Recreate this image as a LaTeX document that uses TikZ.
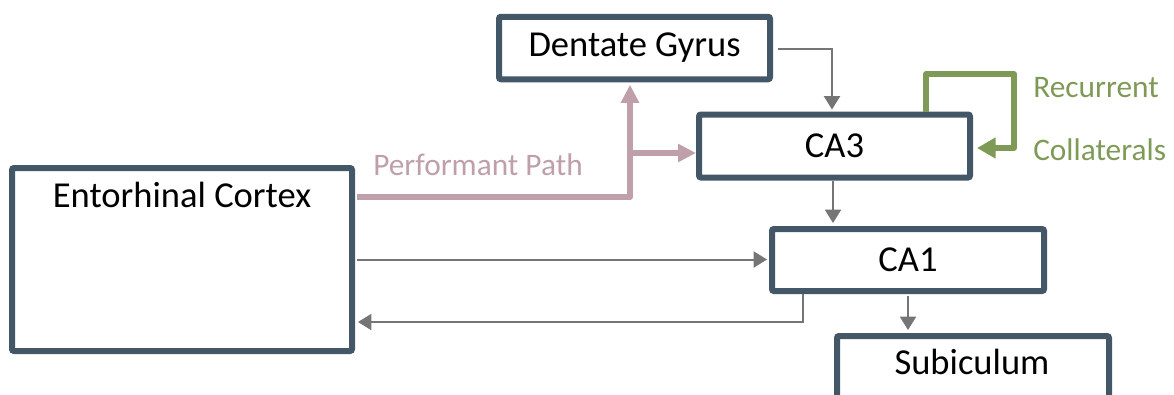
\documentclass[tikz,border=0pt]{standalone}
\usepackage{fontspec}
\setmainfont{Carlito}
\usetikzlibrary{arrows.meta,calc}
\definecolor{boxc}{HTML}{445767}
\definecolor{pinkc}{HTML}{BF9FAA}
\definecolor{greenc}{HTML}{7F9A57}
\definecolor{grayc}{HTML}{757575}
\begin{document}
\begin{tikzpicture}[x=0.75pt,y=-0.75pt,
  box/.style={draw=boxc,line width=4.5pt,rounded corners=1.5pt,fill=white,inner sep=0pt,
    font=\fontsize{27.4pt}{30pt}\selectfont,text=black},
  btext/.style={inner sep=0pt,font=\fontsize{27.4pt}{30pt}\selectfont,text=black},
  lbl/.style={inner sep=0pt,anchor=west,font=\fontsize{23.5pt}{26pt}\selectfont},
  grayarrow/.style={draw=grayc,line width=1.5pt,-{Triangle[length=10pt,width=12pt]}},
  pinkarrow/.style={draw=pinkc,line width=4.5pt,line join=round,-{Triangle[length=13.5pt,width=13pt]}},
  greenarrow/.style={draw=greenc,line width=4.5pt,line join=round,-{Triangle[length=14pt,width=15pt]}}]
\useasboundingbox (0,0) rectangle (1174,394);
\clip (0,0) rectangle (1174,394);
% boxes
\node[box,minimum width=340*0.75pt,minimum height=183*0.75pt] (EC) at (182,259.5) {};
\node[btext] (ECt) at (182,195) {Entorhinal Cortex};
\node[box,minimum width=271*0.75pt,minimum height=62.5*0.75pt] (DG) at (634.5,48) {Dentate Gyrus};
\node[box,minimum width=271*0.75pt,minimum height=63*0.75pt] (CA3) at (834.5,146) {CA3};
\node[box,minimum width=272*0.75pt,minimum height=62*0.75pt] (CA1) at (908,260) {CA1};
\node[box,minimum width=272*0.75pt,minimum height=62*0.75pt] (SUB) at (973,367) {};
\node[btext] (SUBt) at (972,362) {Subiculum};
% helper coordinates
\coordinate (pturn) at (630,197);
\coordinate (pbranch) at (630,153);
\coordinate (dgturn) at (832,49);
\coordinate (c31) at (833,0);
\coordinate (ret) at (803,322);
\coordinate (g1) at (926,74);
\coordinate (g2) at (1014,148);
% performant path
\draw[pinkarrow,shorten >=2.5*0.75pt] ($(EC.east |- pturn)+(2,0)$) -- (pturn) -- (pturn |- DG.south);
\draw[pinkarrow] (pbranch) -- (CA3.west |- pbranch);
\node[lbl,text=pinkc] (pp) at (373,165) {Performant Path};
% gray connectors
\draw[grayarrow,shorten >=2*0.75pt] ($(DG.east |- dgturn)+(5,0)$) -| (dgturn |- CA3.north);
\draw[grayarrow,shorten >=3*0.75pt] (CA3.south -| c31) -- (CA1.north -| c31);
\draw[grayarrow,shorten >=2*0.75pt] ($(EC.east)+(2,0)$) -- (CA1.west |- EC.east);
\draw[grayarrow,shorten >=3*0.75pt] (CA1.south -| ret) -- (ret) -- (EC.east |- ret);
\draw[grayarrow,shorten >=3*0.75pt] ($(CA1.south)+(0,2)$) -- (CA1.south |- SUB.north);
% recurrent collaterals
\draw[greenarrow,shorten >=4*0.75pt] (CA3.north -| g1) -- (g1) -| (g2) -- (CA3.east |- g2);
\node[lbl,text=greenc] (rc1) at (1033,88) {Recurrent};
\node[lbl,text=greenc] (rc2) at (1033,150) {Collaterals};
\end{tikzpicture}
\end{document}
